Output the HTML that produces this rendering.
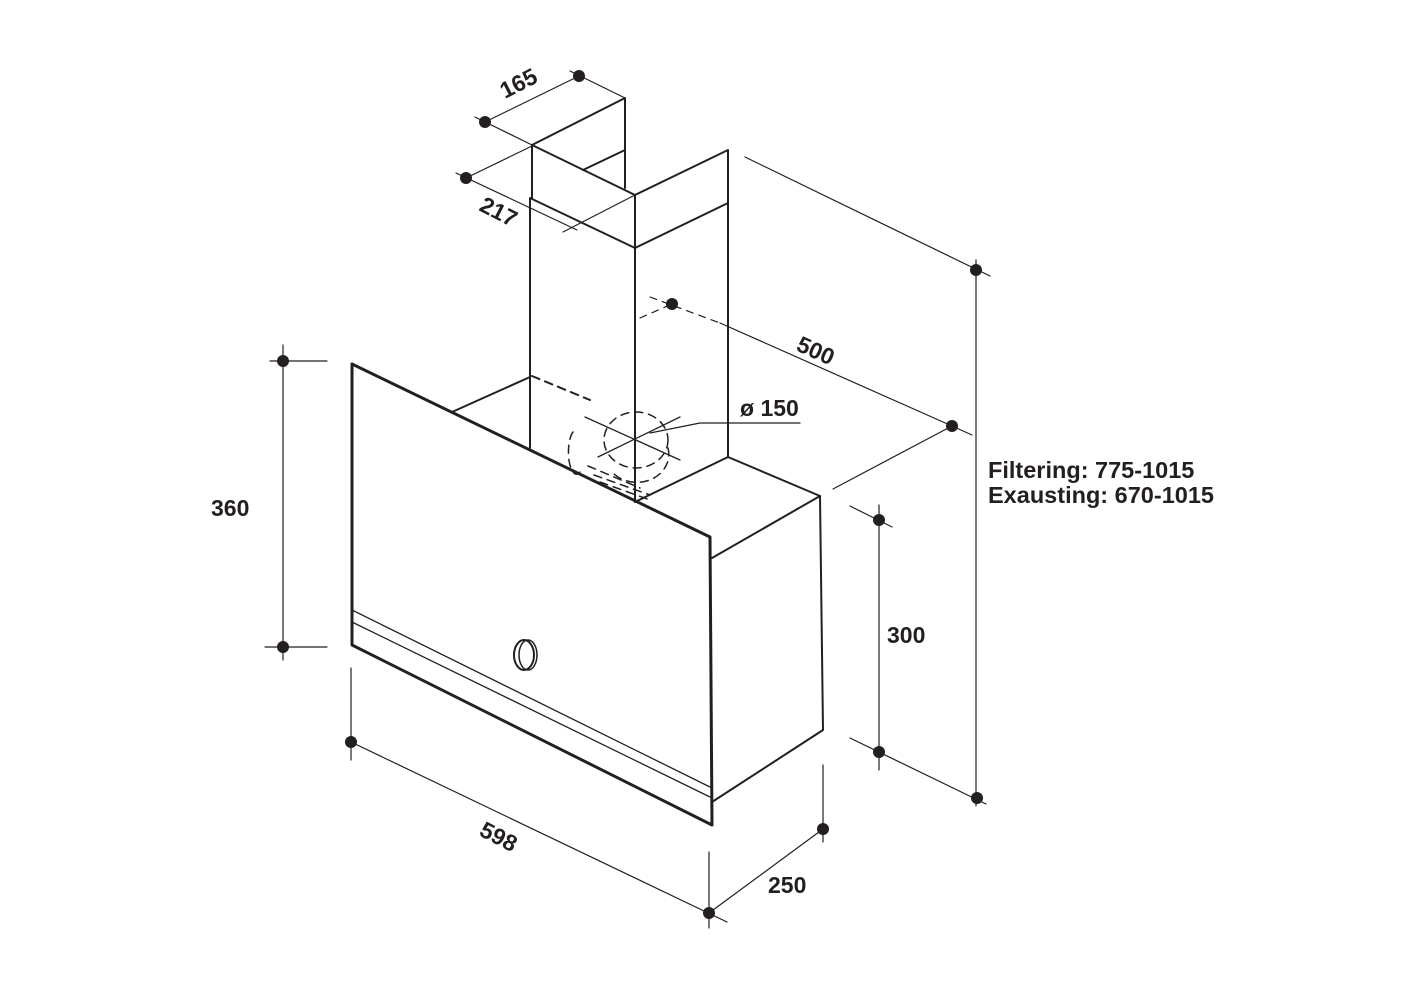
<!DOCTYPE html>
<html><head><meta charset="utf-8"><style>
html,body{margin:0;padding:0;background:#fff;}
svg{display:block;}
text{font-family:"Liberation Sans",Arial,sans-serif;font-weight:bold;fill:#231f20;}
</style></head><body>
<svg width="1425" height="1000" viewBox="0 0 1425 1000" xmlns="http://www.w3.org/2000/svg">
<g stroke="#231f20" fill="none" stroke-linecap="round" stroke-linejoin="round">
<g stroke-width="2">
<polyline points="532,198 532,145 625,98 625,188"/>
<line x1="583" y1="170" x2="625" y2="150"/>
<polyline points="532,145 635,195 728,150 728,203"/>
<line x1="635" y1="195" x2="635" y2="248"/>
<polyline points="530,448 530,198 635,248 728,203 728,457"/>
<line x1="635" y1="248" x2="635" y2="502"/>
<line x1="452" y1="412" x2="530" y2="377"/>
<polyline points="635,502 728,457 820,496"/>
<polyline points="712,558 820,496 823,730 712,802"/>
</g>
<polyline points="352,364 710,537 712,825 352,645 352,364" stroke-width="3"/>
<line x1="352" y1="610" x2="710" y2="787" stroke-width="1.3"/>
<line x1="352" y1="622" x2="710" y2="797" stroke-width="1.3"/>
<ellipse cx="524" cy="655" rx="10" ry="15" stroke-width="2"/>
<ellipse cx="528" cy="655" rx="9" ry="15" stroke-width="1.5"/>
<g stroke-width="1.5" stroke-dasharray="8,6">
<line x1="532" y1="376" x2="590" y2="400" stroke-width="2"/>
<ellipse cx="636" cy="440" rx="32" ry="28"/>
<path d="M668,448 A32,28 0 0 1 612,472"/>
<path d="M573,432 A8,22 0 0 0 580,472"/>
<path d="M588,466 L640,488"/>
<path d="M594,475 L650,495"/>
<path d="M600,482 L650,500"/>
</g>
<g stroke-width="1.3">
<line x1="585" y1="417" x2="680" y2="460"/>
<line x1="598" y1="457" x2="680" y2="417"/>
<polyline points="650,433 700,423 800,423"/>
</g>
<g stroke-width="1.2">
<line x1="485" y1="122" x2="579" y2="76"/>
<line x1="475" y1="117" x2="532" y2="145"/>
<line x1="570" y1="71" x2="625" y2="98"/>
<line x1="466" y1="178" x2="532" y2="146"/>
<line x1="456" y1="173" x2="577" y2="230"/>
<line x1="563" y1="232" x2="635" y2="195"/>
<line x1="720" y1="323" x2="952" y2="426"/>
<line x1="952" y1="426" x2="833" y2="489"/>
<line x1="952" y1="426" x2="972" y2="435"/>
<line x1="745" y1="157" x2="990" y2="276"/>
<line x1="976" y1="260" x2="976" y2="806"/>
<line x1="850" y1="738" x2="986" y2="804"/>
<line x1="879" y1="505" x2="879" y2="770"/>
<line x1="850" y1="506" x2="892" y2="527"/>
<line x1="283" y1="345" x2="283" y2="660"/>
<line x1="270" y1="361" x2="327" y2="361"/>
<line x1="265" y1="647" x2="327" y2="647"/>
<line x1="351" y1="668" x2="351" y2="760"/>
<line x1="351" y1="742" x2="727" y2="922"/>
<line x1="709" y1="852" x2="709" y2="928"/>
<line x1="709" y1="913" x2="823" y2="829"/>
<line x1="823" y1="765" x2="823" y2="842"/>
</g>
<g stroke-width="1.2" stroke-dasharray="7,6">
<line x1="650" y1="297" x2="720" y2="323"/>
<line x1="640" y1="318" x2="672" y2="304"/>
</g>
</g>
<g fill="#231f20">
<circle cx="485" cy="122" r="6"/><circle cx="579" cy="76" r="6"/>
<circle cx="466" cy="178" r="6"/><circle cx="672" cy="304" r="6"/>
<circle cx="952" cy="426" r="6"/><circle cx="976" cy="270" r="6"/>
<circle cx="977" cy="798" r="6"/><circle cx="879" cy="520" r="6"/>
<circle cx="879" cy="752" r="6"/><circle cx="283" cy="361" r="6"/>
<circle cx="283" cy="647" r="6"/><circle cx="351" cy="742" r="6"/>
<circle cx="709" cy="913" r="6"/><circle cx="823" cy="829" r="6"/>
</g>
<g font-size="23">
<text x="0" y="0" transform="translate(505,99) rotate(-27)">165</text>
<text x="0" y="0" transform="translate(478,210) rotate(27)">217</text>
<text x="0" y="0" transform="translate(795,350) rotate(24)">500</text>
<text x="740" y="416">ø 150</text>
<text x="211" y="516">360</text>
<text x="887" y="643">300</text>
<text x="0" y="0" transform="translate(478,835) rotate(27)">598</text>
<text x="768" y="893">250</text>
</g>
<g font-size="23.5">
<text x="988" y="478">Filtering: 775-1015</text>
<text x="988" y="503">Exausting: 670-1015</text>
</g>
</svg>
</body></html>
